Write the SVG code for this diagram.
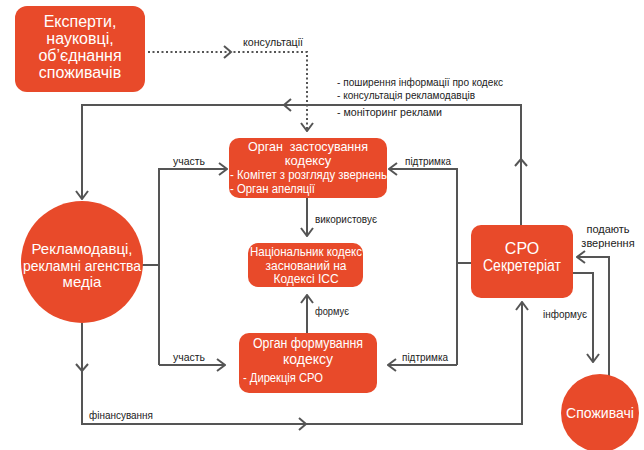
<svg xmlns="http://www.w3.org/2000/svg" width="644" height="450" viewBox="0 0 644 450">
<style>
.node{fill:#E84A2A}
.nt{fill:#fff;font-family:"Liberation Sans",Arial,sans-serif}
.lbl{fill:#222;font-family:"Liberation Sans",Arial,sans-serif;font-size:11px}
.ln{fill:none;stroke:#555;stroke-width:2}
.dot{fill:none;stroke:#555;stroke-width:2;stroke-dasharray:2 2.5}
.chev{fill:none;stroke:#555;stroke-width:2}
</style>
<defs>
<marker id="arr" viewBox="0 0 10 14" refX="9" refY="7" markerWidth="10" markerHeight="14" markerUnits="userSpaceOnUse" orient="auto">
<path d="M1,1 L9,7 L1,13" fill="none" stroke="#555" stroke-width="2"/>
</marker>
</defs>
<rect width="644" height="450" fill="#fff"/>
<g id="connectors">
<path class="dot" d="M148,52 H307 V131" marker-end="url(#arr)"/>
<polyline class="chev" points="224,46 231,52 224,58"/>
<path class="ln" d="M521,225 V105 H82 V199" marker-end="url(#arr)"/>
<polyline class="chev" points="291,99 284,105 291,111"/>
<polyline class="chev" points="515,166 521,159 527,166"/>
<path class="ln" d="M142,265 H159"/>
<path class="ln" d="M159,365 V169 H227" marker-end="url(#arr)"/>
<path class="ln" d="M159,365 H225" marker-end="url(#arr)"/>
<path class="ln" d="M471,263 H457"/>
<path class="ln" d="M457,365 V169 H389" marker-end="url(#arr)"/>
<path class="ln" d="M457,365 H388" marker-end="url(#arr)"/>
<path class="ln" d="M307,198 V236" marker-end="url(#arr)"/>
<path class="ln" d="M307,333 V295" marker-end="url(#arr)"/>
<path class="ln" d="M82,323 V424 H522 V302" marker-end="url(#arr)"/>
<polyline class="chev" points="76,364 82,371 88,364"/>
<polyline class="chev" points="299,418 306,424 299,430"/>
<path class="ln" d="M573,273 H593 V362" marker-end="url(#arr)"/>
<path class="ln" d="M609,376 V257 H577" marker-end="url(#arr)"/>
</g>
<g id="labels">
<text class="lbl" x="243" y="46" textLength="60" lengthAdjust="spacingAndGlyphs">консультації</text>
<text class="lbl" x="337" y="86" textLength="166" lengthAdjust="spacingAndGlyphs">- поширення інформації про кодекс</text>
<text class="lbl" x="337" y="99" textLength="138" lengthAdjust="spacingAndGlyphs">- консультація рекламодавців</text>
<text class="lbl" x="337" y="116" textLength="105" lengthAdjust="spacingAndGlyphs">- моніторинг реклами</text>
<text class="lbl" x="173" y="165" textLength="32" lengthAdjust="spacingAndGlyphs">участь</text>
<text class="lbl" x="405" y="165" textLength="46" lengthAdjust="spacingAndGlyphs">підтримка</text>
<text class="lbl" x="315" y="223" textLength="62" lengthAdjust="spacingAndGlyphs">використовує</text>
<text class="lbl" x="315" y="315" textLength="34" lengthAdjust="spacingAndGlyphs">формує</text>
<text class="lbl" x="173" y="361" textLength="32" lengthAdjust="spacingAndGlyphs">участь</text>
<text class="lbl" x="402" y="361" textLength="46" lengthAdjust="spacingAndGlyphs">підтримка</text>
<text class="lbl" x="89" y="419" textLength="64" lengthAdjust="spacingAndGlyphs">фінансування</text>
<text class="lbl" x="543" y="318" textLength="44" lengthAdjust="spacingAndGlyphs">інформує</text>
<text class="lbl" x="608" y="233" text-anchor="middle">подають</text>
<text class="lbl" x="608" y="247" text-anchor="middle">звернення</text>
</g>
<g id="experts">
<rect class="node" x="15" y="6" width="130" height="86" rx="12"/>
<text class="nt" font-size="16" text-anchor="middle"><tspan x="80" y="27">Експерти,</tspan><tspan x="80" y="44">науковці,</tspan><tspan x="80" y="61">об’єднання</tspan><tspan x="80" y="78">споживачів</tspan></text>
</g>
<g id="advertisers">
<circle class="node" cx="82" cy="262" r="61"/>
<text class="nt" font-size="15" text-anchor="middle"><tspan x="82" y="254">Рекламодавці,</tspan><tspan x="82" y="271" textLength="118" lengthAdjust="spacingAndGlyphs">рекламні агенства</tspan><tspan x="82" y="287">медіа</tspan></text>
</g>
<g id="application-body">
<rect class="node" x="229" y="138" width="158" height="60" rx="10"/>
<text class="nt" font-size="13" text-anchor="middle" x="308" y="151" textLength="120" lengthAdjust="spacingAndGlyphs" xml:space="preserve">Орган  застосування</text>
<text class="nt" font-size="13" text-anchor="middle" x="308" y="165">кодексу</text>
<text class="nt" font-size="12" x="230" y="179" textLength="157" lengthAdjust="spacingAndGlyphs">- Комітет з розгляду звернень</text>
<text class="nt" font-size="12" x="230" y="193" textLength="85" lengthAdjust="spacingAndGlyphs">- Орган апеляції</text>
</g>
<g id="national-code">
<rect class="node" x="248" y="243" width="115" height="44" rx="10"/>
<text class="nt" font-size="12" text-anchor="middle"><tspan x="306" y="256" textLength="112" lengthAdjust="spacingAndGlyphs">Національник кодекс</tspan><tspan x="306" y="269.5">заснований на</tspan><tspan x="306" y="283">Кодексі ICC</tspan></text>
</g>
<g id="formation-body">
<rect class="node" x="239" y="333" width="138" height="60" rx="10"/>
<text class="nt" font-size="14" text-anchor="middle" x="308" y="348" textLength="110" lengthAdjust="spacingAndGlyphs">Орган формування</text>
<text class="nt" font-size="14" text-anchor="middle" x="308" y="364">кодексу</text>
<text class="nt" font-size="13" x="243" y="382" textLength="80" lengthAdjust="spacingAndGlyphs">- Дирекція СРО</text>
</g>
<g id="secretariat">
<rect class="node" x="471" y="225" width="102" height="73" rx="10"/>
<text class="nt" font-size="16" text-anchor="middle"><tspan x="522" y="254">СРО</tspan><tspan x="522" y="271" textLength="78" lengthAdjust="spacingAndGlyphs">Секретеріат</tspan></text>
</g>
<g id="consumers">
<circle class="node" cx="600" cy="413" r="39"/>
<text class="nt" font-size="15" text-anchor="middle" x="600" y="418" textLength="68" lengthAdjust="spacingAndGlyphs">Споживачі</text>
</g>
</svg>
